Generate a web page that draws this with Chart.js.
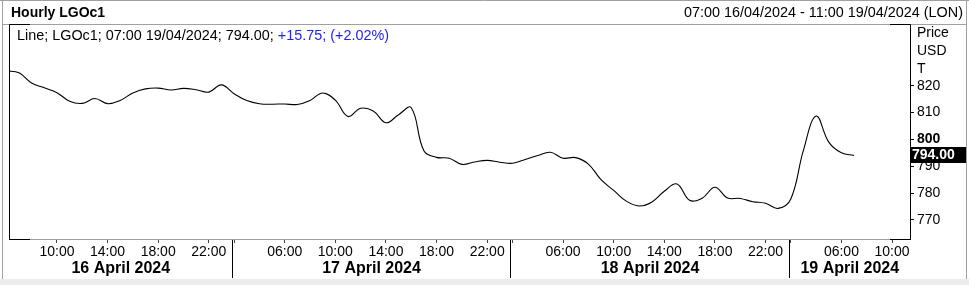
<!DOCTYPE html>
<html>
<head>
<meta charset="utf-8">
<script src="https://cdn.jsdelivr.net/npm/chart.js@4.4.1/dist/chart.umd.min.js"></script>
<style>
  html, body { margin: 0; padding: 0; background: #fff; }
  canvas { display: block; }
</style>
</head>
<body>
<canvas id="myChart" width="969" height="285"></canvas>
<script>
//  trading-hour slots, 0 = 10:00 16 April (market closed 23:00-01:00)
const firstSlot = -4

//  hourly closes, one per slot from 06:00 16/04 to 07:00 19/04
const prices = [
    825.5, 824.8, 821.0, 819.2,
    817.4, 814.2, 813.4, 815.2, 813.3, 814.5, 817.3, 818.8, 819.1, 818.4, 819.0, 818.5, 817.6, 820.3,
    817.0, 814.5, 813.3, 813.1, 813.2, 813.0, 814.5, 817.3, 814.6, 808.5, 811.6, 810.6, 806.2, 809.2,
    811.8, 795.8, 793.3, 793.0, 790.7, 791.6, 792.2, 791.5, 791.1, 792.5, 794.0, 795.2, 793.0, 793.2,
    790.8, 785.0, 781.0, 777.0, 775.2, 776.6, 780.7, 783.4, 777.3, 778.1, 782.2, 778.2, 778.0, 776.8,
    776.2, 774.3, 777.8, 796.0, 808.7, 799.0, 795.0, 794.0
]

//  x axis labels
const hourTicks = [0, 4, 8, 12, 18, 22, 26, 30, 34, 40, 44, 48, 52, 56, 62, 66]
const hourLabels = ['10:00', '14:00', '18:00', '22:00',
    '06:00', '10:00', '14:00', '18:00', '22:00',
    '06:00', '10:00', '14:00', '18:00', '22:00',
    '06:00', '10:00']
const daySplits = [14, 36, 58]
const dayLabels = ['16 April 2024', '17 April 2024', '18 April 2024', '19 April 2024']

//  y axis
const priceTicks = [770, 780, 790, 800, 810, 820]
const axisTitle = ['Price', 'USD', 'T']

const title = 'Hourly LGOc1'
const range = '07:00 16/04/2024 - 11:00 19/04/2024 (LON)'
const infoBlack = 'Line; LGOc1; 07:00 19/04/2024; 794.00; '
const infoBlue = '+15.75; (+2.02%)'

const FONT = '"Liberation Sans", Arial, sans-serif'

let points = prices.map((p, i) => ({ x: firstSlot + i, y: p }))

let frame = {
    id: 'frame',
    afterDraw(chart) {
        let c = chart.ctx,
            a = chart.chartArea,
            xs = chart.scales.x,
            ys = chart.scales.y
        c.save()

        // outer border
        c.fillStyle = '#ececec'
        c.fillRect(0, 279, 969, 6)
        c.strokeStyle = '#a0a0a0'
        c.lineWidth = 1
        c.beginPath()
        c.moveTo(0, 0.5); c.lineTo(969, 0.5)
        c.moveTo(2.5, 0); c.lineTo(2.5, 279)
        c.moveTo(966.5, 0); c.lineTo(966.5, 279)
        c.moveTo(2, 24.5); c.lineTo(966, 24.5)
        c.moveTo(30, 239.5); c.lineTo(890, 239.5)
        c.stroke()

        // plot frame, black corners
        c.strokeStyle = '#000'
        c.beginPath()
        c.moveTo(a.left + 0.5, 24.5); c.lineTo(30, 24.5)
        c.moveTo(890, 24.5); c.lineTo(a.right + 0.5, 24.5)
        c.moveTo(a.left + 0.5, 24.5); c.lineTo(a.left + 0.5, a.bottom + 0.5)
        c.moveTo(a.right + 0.5, 24.5); c.lineTo(a.right + 0.5, a.bottom + 0.5)
        c.moveTo(a.left, a.bottom + 0.5); c.lineTo(30, a.bottom + 0.5)
        c.moveTo(890, a.bottom + 0.5); c.lineTo(a.right + 1, a.bottom + 0.5)
        c.stroke()

        // day separators and labels
        let edges = [a.left].concat(daySplits.map(v => Math.round(xs.getPixelForValue(v)) - 1.5), [a.right])
        c.beginPath()
        for (let i = 1; i < edges.length - 1; i++) {
            c.moveTo(edges[i], a.bottom + 1); c.lineTo(edges[i], 278)
        }
        c.stroke()
        c.fillStyle = '#000'
        c.font = 'bold 16px ' + FONT
        c.textAlign = 'center'
        c.textBaseline = 'middle'
        dayLabels.forEach((d, i) => c.fillText(d, (edges[i] + edges[i + 1]) / 2, 269))

        // header
        c.font = 'bold 14px ' + FONT
        c.textAlign = 'left'
        c.fillText(title, 11, 13)
        c.font = '14.4px ' + FONT
        c.textAlign = 'right'
        c.fillText(range, 963, 13)

        // info line
        c.textAlign = 'left'
        c.fillStyle = '#000'
        c.fillText(infoBlack, 17, 36)
        let w = c.measureText(infoBlack).width
        c.fillStyle = '#2323f0'
        c.fillText(infoBlue, 17 + w, 36)

        // axis title
        c.font = '14px ' + FONT
        c.fillStyle = '#000'
        axisTitle.forEach((t, i) => c.fillText(t, 917, 33 + i * 18))

        // last price box
        let last = prices[prices.length - 1],
            py = Math.round(ys.getPixelForValue(last))
        c.fillRect(a.right + 1, py - 8, 55, 16)
        c.fillStyle = '#fff'
        c.font = 'bold 14px ' + FONT
        c.fillText(last.toFixed(2), a.right + 2, py)
        c.restore()
    }
}

const ctx = document.getElementById('myChart')

new Chart(ctx, {
    type: 'line',
    data: {
        datasets: [{
            data: points,
            borderColor: '#000',
            borderWidth: 1.1,
            pointRadius: 0,
            tension: 0.4,
            fill: false
        }]
    },
    options: {
        responsive: false,
        animation: false,
        layout: { padding: { left: 9, top: 25, right: 0, bottom: 0 } },
        plugins: { legend: { display: false }, tooltip: { enabled: false } },
        scales: {
            x: {
                type: 'linear',
                min: -3.79,
                max: 67.42,
                afterBuildTicks: s => { s.ticks = hourTicks.concat(daySplits).sort((a, b) => a - b).map(v => ({ value: v })) },
                afterFit: s => { s.height = 46 },
                border: { display: false },
                grid: { drawOnChartArea: false, tickLength: 4, color: '#444' },
                ticks: {
                    autoSkip: false,
                    maxRotation: 0,
                    padding: 1,
                    color: '#000',
                    font: { family: FONT, size: 14 },
                    callback: v => {
                        let i = hourTicks.indexOf(v)
                        return i < 0 ? '' : hourLabels[i]
                    }
                }
            },
            y: {
                position: 'right',
                min: 762.9,
                max: 842.6,
                afterBuildTicks: s => { s.ticks = priceTicks.map(v => ({ value: v })) },
                afterFit: s => { s.width = 59 },
                border: { display: false },
                grid: { drawOnChartArea: false, tickLength: 4, color: '#000' },
                ticks: {
                    padding: 3,
                    color: '#000',
                    font: c => ({ family: FONT, size: 14, weight: c.tick && c.tick.value === 800 ? 'bold' : 'normal' }),
                    callback: v => String(v)
                }
            }
        }
    },
    plugins: [frame]
});
</script>
</body>
</html>
